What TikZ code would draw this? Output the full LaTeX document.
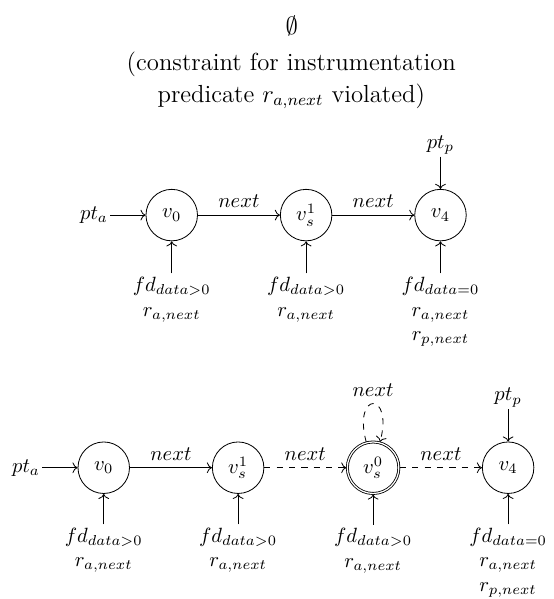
\documentclass[tikz,border=0pt]{standalone}
\usepackage{amsmath}
\usepackage{amssymb}
\usetikzlibrary{arrows.meta, automata, positioning}

\begin{document}
\begin{tikzpicture}[
  node distance=1.4cm,
  lbl/.style={inner sep=1pt},
  info/.style={align=center, inner sep=1.5pt},
  arrow/.style={->},
  dasharrow/.style={->, dashed},
  every loop/.style={min distance=9mm}
]
\useasboundingbox (0,0) rectangle (9.44,-10.22);

% Result of the check
\node[font=\large] (empty) at (4.98,-0.45) {$\emptyset$};
\node[font=\large, align=center] (note) at (4.97,-1.37) {(constraint for instrumentation\\[1.5pt]predicate $r_{a,next}$ violated)};

% Top path
\node[state] (v0_top) at (2.93,-3.67) {$v_0$};
\node[state, right=of v0_top] (vs1_top) {$v_s^1$};
\node[state, right=of vs1_top] (v4_top) {$v_4$};

\node[lbl, left=0.6cm of v0_top] (pta_top) {$pt_a$};
\node[lbl, above=0.55cm of v4_top] (ptp_top) {$pt_p$};
\node[info, below=0.55cm of v0_top] (fd0_top) {$fd_{data>0}$\\$r_{a,next}$};
\node[info, below=0.55cm of vs1_top] (fd1_top) {$fd_{data>0}$\\$r_{a,next}$};
\node[info, below=0.55cm of v4_top] (fd4_top) {$fd_{data=0}$\\$r_{a,next}$\\$r_{p,next}$};

\draw[arrow] (v0_top) -- node[above] {$next$} (vs1_top);
\draw[arrow] (vs1_top) -- node[above] {$next$} (v4_top);
\draw[arrow] (pta_top) -- (v0_top);
\draw[arrow] (ptp_top) -- (v4_top);
\draw[arrow] (fd0_top) -- (v0_top);
\draw[arrow] (fd1_top) -- (vs1_top);
\draw[arrow] (fd4_top) -- (v4_top);

% Bottom path
\node[state] (v0_bot) at (1.77,-7.98) {$v_0$};
\node[state, right=of v0_bot] (vs1_bot) {$v_s^1$};
\node[state, accepting, right=of vs1_bot] (vs0_bot) {$v_s^0$};
\node[state, right=of vs0_bot] (v4_bot) {$v_4$};

\node[lbl, left=0.6cm of v0_bot] (pta_bot) {$pt_a$};
\node[lbl, above=0.55cm of v4_bot] (ptp_bot) {$pt_p$};
\node[info, below=0.52cm of v0_bot] (fd0_bot) {$fd_{data>0}$\\$r_{a,next}$};
\node[info, below=0.52cm of vs1_bot] (fd1_bot) {$fd_{data>0}$\\$r_{a,next}$};
\node[info, below=0.52cm of vs0_bot] (fds_bot) {$fd_{data>0}$\\$r_{a,next}$};
\node[info, below=0.52cm of v4_bot] (fd4_bot) {$fd_{data=0}$\\$r_{a,next}$\\$r_{p,next}$};

\draw[arrow] (v0_bot) -- node[above] {$next$} (vs1_bot);
\draw[dasharrow] (vs1_bot) -- node[above] {$next$} (vs0_bot);
\draw[dasharrow] (vs0_bot) -- node[above] {$next$} (v4_bot);
\path (vs0_bot) edge[dasharrow, loop above] node[above] {$next$} ();
\draw[arrow] (pta_bot) -- (v0_bot);
\draw[arrow] (ptp_bot) -- (v4_bot);
\draw[arrow] (fd0_bot) -- (v0_bot);
\draw[arrow] (fd1_bot) -- (vs1_bot);
\draw[arrow] (fds_bot) -- (vs0_bot);
\draw[arrow] (fd4_bot) -- (v4_bot);

\end{tikzpicture}
\end{document}
